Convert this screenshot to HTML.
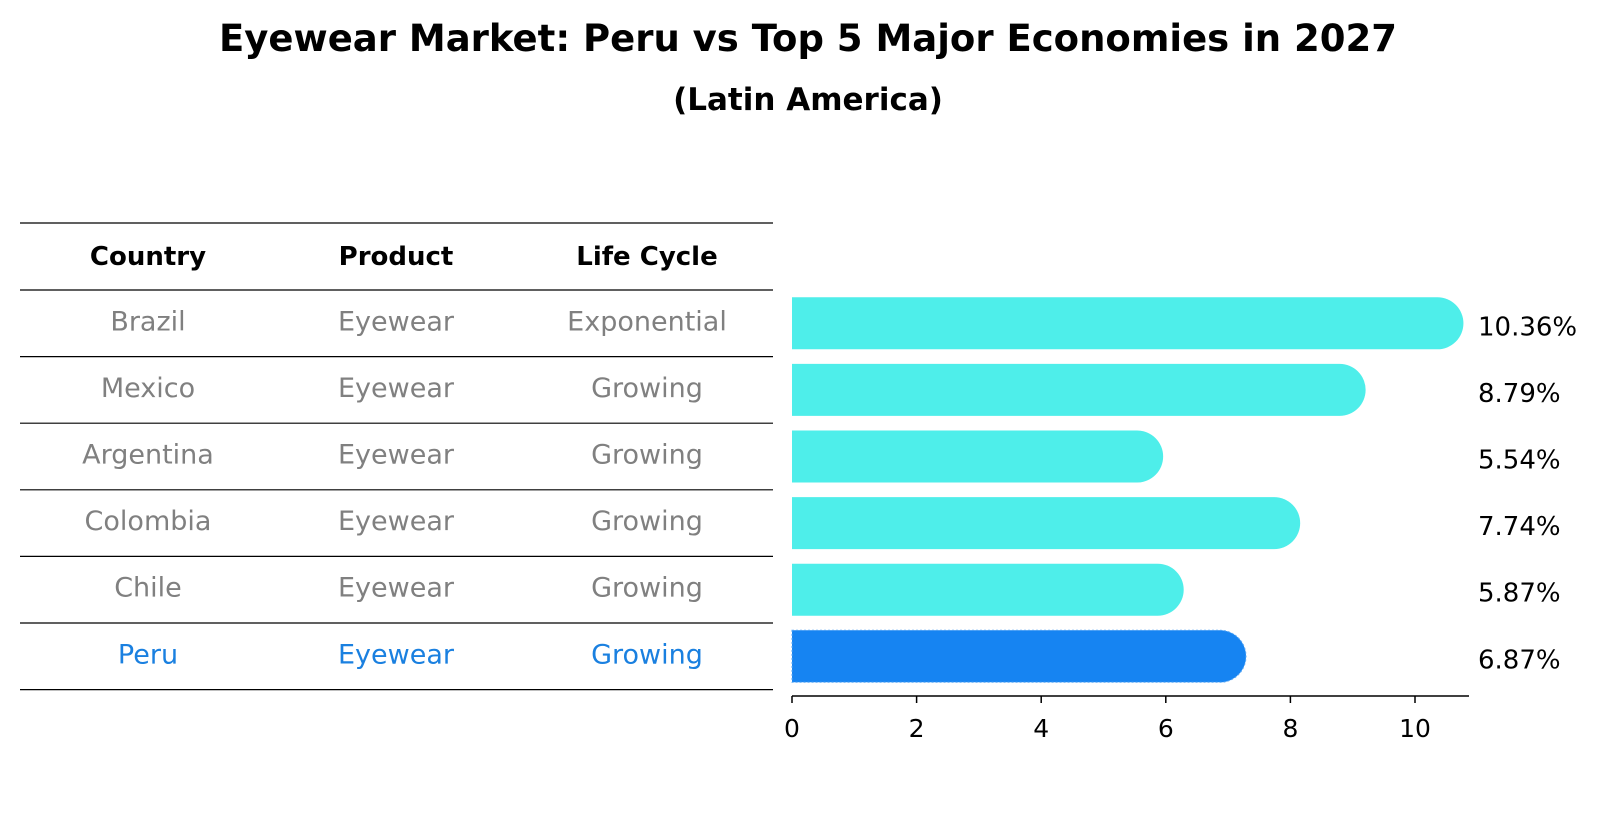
<!DOCTYPE html>
<html><head><meta charset="utf-8"><style>
html,body{margin:0;padding:0;background:#fff}
svg{display:block;font-family:"DejaVu Sans","Liberation Sans",sans-serif}
</style></head><body>
<svg id="chart" width="1604" height="823" viewBox="0 0 1604 823" xmlns="http://www.w3.org/2000/svg">
<text x="808" y="51" text-anchor="middle" font-size="37" font-weight="bold">Eyewear Market: Peru vs Top 5 Major Economies in 2027</text>
<text x="808" y="110" text-anchor="middle" font-size="31" font-weight="bold">(Latin America)</text>
<g id="table"></g>
<g id="bars"></g>
<g id="axis"></g>
</svg>
<script>
const countries = ["Brazil","Mexico","Argentina","Colombia","Chile","Peru"];
const products = ["Eyewear","Eyewear","Eyewear","Eyewear","Eyewear","Eyewear"];
const lifeCycles = ["Exponential","Growing","Growing","Growing","Growing","Growing"];
const values = [10.36,8.79,5.54,7.74,5.87,6.87];
const valueLabels = ["10.36%","8.79%","5.54%","7.74%","5.87%","6.87%"];
const ticks = [0,2,4,6,8,10];
const headers = ["Country","Product","Life Cycle"];

const NS="http://www.w3.org/2000/svg";
function mk(tag,attrs,parent){const e=document.createElementNS(NS,tag);for(const k in attrs)e.setAttribute(k,attrs[k]);parent.appendChild(e);return e;}
const x0=792, pxPer=62.3;
function xScale(v){return x0+v*pxPer;}
const rowTop=290, rowH=66.6;
function rowCenter(i){return rowTop+rowH*(i+0.5);}

const table=document.getElementById('table');
const colX=[148,396,647];
for(let i=0;i<=countries.length+1;i++){
  const y=i===0?223:rowTop+rowH*(i-1);
  const l=mk('line',{x1:20,x2:773,y1:y,y2:y,stroke:'#000','stroke-width':1.2},table);
  
  
}
headers.forEach((h,j)=>{
  const t=mk('text',{x:colX[j],y:265,'text-anchor':'middle','font-size':26,'font-weight':'bold'},table);
  t.textContent=h;
  
  
});
countries.forEach((c,i)=>{
  const col=c==="Peru"?"#1a80e0":"#808080";
  [c,products[i],lifeCycles[i]].forEach((txt,j)=>{
    const t=mk('text',{x:colX[j],y:rowCenter(i)+7,'text-anchor':'middle','font-size':27,fill:col},table);
    t.textContent=txt;
    
    
  });
});

const bars=document.getElementById('bars');
const bh=52, r=26;
values.forEach((v,i)=>{
  const cy=rowCenter(i);
  const col=countries[i]==="Peru"?"#1684f2":"#4eeeea";
  const xe=xScale(v);
  const p=mk('path',{d:`M${x0},${cy-bh/2} H${xe} A${r},${bh/2} 0 0 1 ${xe},${cy+bh/2} H${x0} Z`,fill:col},bars);
  if(countries[i]==="Peru"){p.setAttribute('stroke','#5aa8f5');p.setAttribute('stroke-dasharray','2 2');p.setAttribute('stroke-width','1');}
  
  
  const t=mk('text',{x:1478,y:cy+12,'font-size':26,fill:'#000'},bars);
  t.textContent=valueLabels[i];
  
  
});

const axis=document.getElementById('axis');
const ay=696;
const al=mk('line',{x1:x0,x2:1469,y1:ay,y2:ay,stroke:'#000','stroke-width':1.5},axis);


ticks.forEach(tv=>{
  const x=xScale(tv);
  const tl=mk('line',{x1:x,x2:x,y1:ay,y2:ay+7,stroke:'#000','stroke-width':1.5},axis);
  
  
  const t=mk('text',{x:x,y:ay+41,'text-anchor':'middle','font-size':25},axis);
  t.textContent=tv;
  
  
});
</script>
</body></html>
